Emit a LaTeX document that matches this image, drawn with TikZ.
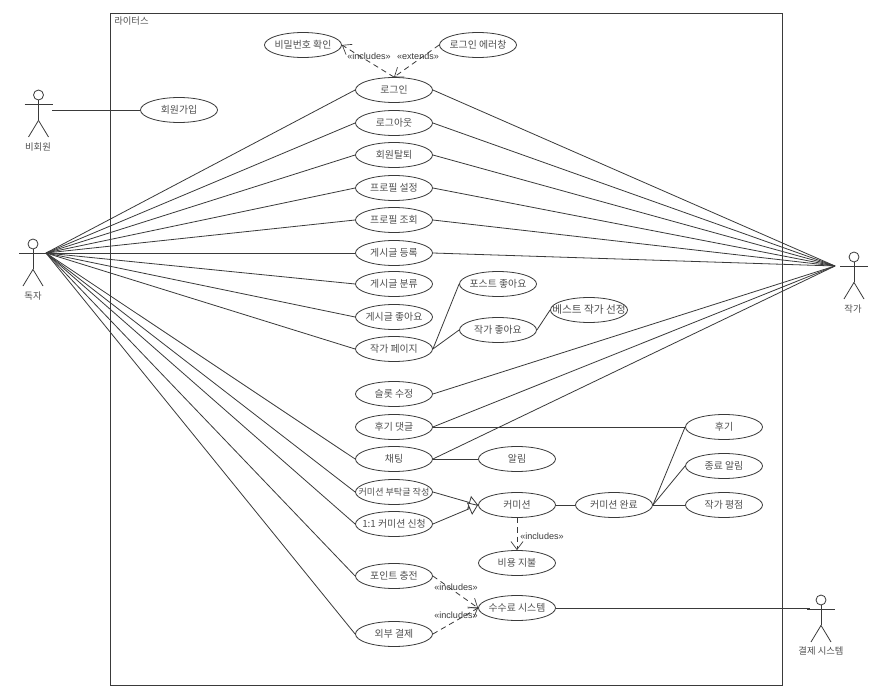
\documentclass[tikz,border=0pt]{standalone}
\usepackage{fontspec}
\setmainfont{Noto Sans CJK KR}
\newfontfamily\latinlabel{Liberation Sans}
\usetikzlibrary{shapes.geometric,arrows.meta}
\definecolor{ink}{HTML}{3A3A3A}
\definecolor{txt}{HTML}{505050}
\newcommand{\ctext}[1]{\makebox[0pt][c]{#1}}
\tikzset{
  uc/.style={draw=ink,ellipse,line width=0.6pt,minimum width=57.75pt,minimum height=18.75pt,inner sep=0pt,text=txt,font=\fontsize{7.4pt}{8pt}\selectfont},
  lnk/.style={draw=ink,line width=0.6pt},
  dep/.style={draw=ink,line width=0.6pt,dashed,dash pattern=on 4pt off 3pt,-{Straight Barb[length=6pt,width=9pt,line width=0.5pt]}},
  gen/.style={draw=ink,line width=0.6pt,-{Triangle[open,length=7pt,width=10pt,fill=white,line width=0.6pt]}},
  stereo/.style={font=\latinlabel\fontsize{6.8pt}{8pt}\selectfont,text=ink,inner sep=0pt},
  actlabel/.style={font=\fontsize{7pt}{8pt}\selectfont,text=txt,inner sep=0pt},
  head/.style={draw=ink,circle,line width=0.6pt,minimum size=7.5pt,inner sep=0pt},
}
\newcommand{\actorfig}[3]{%
  \node[head] (#1head) at (#2,#3-9) {};
  \draw[lnk] (#1head.south) -- ++(0,20) coordinate (#1hip);
  \draw[lnk] (#2-14,#3) -- (#2+14,#3);
  \draw[lnk] (#1hip) -- (#2-10,#3+33);
  \draw[lnk] (#1hip) -- (#2+10,#3+33);
}
\begin{document}
\begin{tikzpicture}[x=0.75pt,y=-0.75pt]
\useasboundingbox (0,0) rectangle (886,699);
\fill[white] (0,0) rectangle (886,699);
\node[draw=ink,line width=0.7pt,minimum width=504pt,minimum height=504pt,inner sep=0pt,anchor=north west] (frame) at (110,13) {};
\node[actlabel,anchor=west] (sysname) at (114,21) {라이터스};

\actorfig{guest}{38.5}{104}
\actorfig{reader}{33}{253}
\actorfig{writer}{854}{266}
\actorfig{pay}{821}{609}
\node[actlabel] (guestlabel) at (38,147) {비회원};
\node[actlabel] (readerlabel) at (33,296) {독자};
\node[actlabel] (writerlabel) at (853,309) {작가};
\node[actlabel] (paylabel) at (821,651) {결제 시스템};
\coordinate (guestp) at (52,110);
\coordinate (readerp) at (46,253);
\coordinate (writerp) at (835,266);
\coordinate (payp) at (810,608);

\node[uc] (pw) at (303,45) {\ctext{비밀번호 확인}};
\node[uc] (err) at (478,45) {\ctext{로그인 에러창}};
\node[uc] (join) at (179,110) {\ctext{회원가입}};
\node[uc] (login) at (394,90) {\ctext{로그인}};
\node[uc] (logout) at (394,123) {\ctext{로그아웃}};
\node[uc] (quit) at (394,155) {\ctext{회원탈퇴}};
\node[uc] (pset) at (394,188) {\ctext{프로필 설정}};
\node[uc] (pview) at (394,220) {\ctext{프로필 조회}};
\node[uc] (preg) at (394,253) {\ctext{게시글 등록}};
\node[uc] (pcat) at (394,284) {\ctext{게시글 분류}};
\node[uc] (plike) at (394,317) {\ctext{게시글 좋아요}};
\node[uc] (apage) at (394,349) {\ctext{작가 페이지}};
\node[uc] (slot) at (394,394) {\ctext{슬롯 수정}};
\node[uc] (reply) at (394,427) {\ctext{후기 댓글}};
\node[uc] (chat) at (394,459) {\ctext{채팅}};
\node[uc] (ask) at (394,492) {\ctext{\fontsize{6.8pt}{8pt}\selectfont 커미션 부탁글 작성}};
\node[uc] (one) at (394,524) {\ctext{1:1 커미션 신청}};
\node[uc] (point) at (394,576) {\ctext{포인트 충전}};
\node[uc] (ext) at (394,634) {\ctext{외부 결제}};
\node[uc] (postlike) at (498,284) {\ctext{포스트 좋아요}};
\node[uc] (alike) at (498,330) {\ctext{작가 좋아요}};
\node[uc] (best) at (589,310) {\ctext{\fontsize{8pt}{8pt}\selectfont 베스트 작가 선정}};
\node[uc] (alarm) at (517,459) {\ctext{알림}};
\node[uc] (comm) at (517,505) {\ctext{커미션}};
\node[uc] (cost) at (517,563) {\ctext{비용 지불}};
\node[uc] (fee) at (517,608) {\ctext{수수료 시스템}};
\node[uc] (done) at (614,505) {\ctext{커미션 완료}};
\node[uc] (review) at (724,427) {\ctext{후기}};
\node[uc] (endal) at (724,466) {\ctext{종료 알림}};
\node[uc] (rate) at (724,505) {\ctext{작가 평점}};

\draw[lnk] (guestp) -- (join.west);
\foreach \n in {login,logout,quit,pset,pview,preg,pcat,plike,apage,chat,ask,one,point,ext}
  \draw[lnk] (readerp) -- (\n.west);
\foreach \n in {login,logout,quit,pset,pview,preg,slot,reply,chat}
  \draw[lnk] (\n.east) -- (writerp);
\draw[lnk] (apage.east) -- (postlike.west);
\draw[lnk] (apage.east) -- (alike.west);
\draw[lnk] (alike.east) -- (best.west);
\draw[lnk] (reply.east) -- (review.west);
\draw[lnk] (chat.east) -- (alarm.west);
\draw[lnk] (comm.east) -- (done.west);
\draw[lnk] (done.east) -- (review.west);
\draw[lnk] (done.east) -- (endal.west);
\draw[lnk] (done.east) -- (rate.west);
\draw[lnk] (fee.east) -- (payp);
\draw[gen] (ask.east) -- (comm.west);
\draw[gen] (one.east) -- (comm.west);
\draw[dep] (login.north) -- (pw.east);
\draw[dep] (err.west) -- (login.north);
\draw[dep] (comm.south) -- (cost.north);
\draw[dep] (point.east) -- (fee.west);
\draw[dep] (ext.east) -- (fee.west);
\node[stereo] (s1) at (369,56) {«includes»};
\node[stereo] (s2) at (418,56) {«extends»};
\node[stereo] (s3) at (542,536) {«includes»};
\node[stereo] (s4) at (456,587) {«includes»};
\node[stereo] (s5) at (456,615) {«includes»};
\end{tikzpicture}
\end{document}
